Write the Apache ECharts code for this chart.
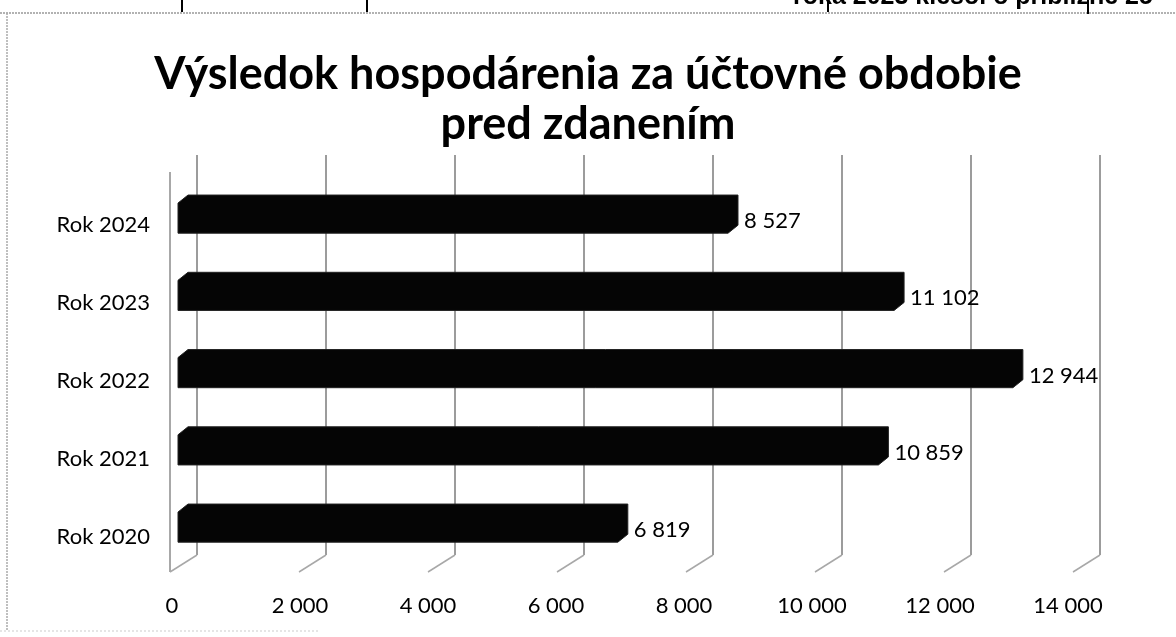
<!DOCTYPE html>
<html><head><meta charset="utf-8">
<script src="https://cdn.jsdelivr.net/npm/echarts@6/dist/echarts.min.js"></script>
<style>html,body{margin:0;padding:0;background:#fff}#c{width:1176px;height:637px}</style>
</head><body><div id="c"></div>
<script>
const titleLines = ['Výsledok hospodárenia za účtovné obdobie', 'pred zdanením'];
const categories = ['Rok 2020', 'Rok 2021', 'Rok 2022', 'Rok 2023', 'Rok 2024'];
const values = [6819, 10859, 12944, 11102, 8527];
const valueLabels = ['6 819', '10 859', '12 944', '11 102', '8 527'];
const xTicks = [0, 2000, 4000, 6000, 8000, 10000, 12000, 14000];
const xTickLabels = ['0', '2 000', '4 000', '6 000', '8 000', '10 000', '12 000', '14 000'];
const topCutText = 'roka 2023 klesol o približne 25';

const FONT = 'Lato, "Open Sans", sans-serif';
const chart = echarts.init(document.getElementById('c'));
const DX = 10, DY = 8;

chart.setOption({
  backgroundColor: '#fff',
  animation: false,
  title: {
    text: titleLines.join('\n'),
    left: 'center', top: 44,
    textStyle: { fontFamily: FONT, fontWeight: 'bold', fontSize: 45, lineHeight: 50, color: '#000' }
  },
  grid: [
    { left: 172, width: 896, top: 186, height: 390 },
    { left: 178, width: 903, top: 179.5, height: 386.25 },
    { left: 197, width: 903, top: 155, height: 400 }
  ],
  xAxis: [
    { gridIndex: 0, type: 'value', min: 0, max: 14000, interval: 2000,
      axisLine: { show: false }, axisTick: { show: false }, splitLine: { show: false },
      axisLabel: { margin: 19, fontFamily: FONT, fontSize: 22, color: '#000',
        formatter: v => xTickLabels[xTicks.indexOf(v)] } },
    { gridIndex: 1, type: 'value', min: 0, max: 14000, show: false },
    { gridIndex: 2, type: 'value', min: 0, max: 14000, interval: 2000,
      axisLine: { show: false }, axisTick: { show: false }, axisLabel: { show: false },
      splitLine: { show: true, lineStyle: { color: '#9c9c9c', width: 2 } } }
  ],
  yAxis: [
    { gridIndex: 0, type: 'category', data: categories,
      axisLine: { show: false }, axisTick: { show: false },
      axisLabel: { margin: 22, fontFamily: FONT, fontSize: 22, color: '#000' } },
    { gridIndex: 1, type: 'category', data: categories, show: false },
    { gridIndex: 2, type: 'value', min: 0, max: 1, show: false }
  ],
  series: [
    {
      type: 'custom', xAxisIndex: 2, yAxisIndex: 2, silent: true,
      data: xTicks.map(v => [v, 0]),
      renderItem: (params, api) => {
        const p = api.coord([api.value(0), 0]);
        const top = api.coord([api.value(0), 1]);
        const children = [{
          type: 'line',
          shape: { x1: p[0], y1: p[1], x2: p[0] - 27, y2: p[1] + 17 },
          style: { stroke: '#a8a8a8', lineWidth: 1.5 }
        }];
        if (params.dataIndex === 0) {
          children.push({
            type: 'line',
            shape: { x1: p[0] - 27, y1: top[1] + 17, x2: p[0] - 27, y2: p[1] + 17 },
            style: { stroke: '#a8a8a8', lineWidth: 2 }
          });
        }
        return { type: 'group', children };
      }
    },
    {
      type: 'custom', xAxisIndex: 1, yAxisIndex: 1,
      data: values.map((v, i) => [v, i]),
      renderItem: (params, api) => {
        const v = api.value(0), c = api.value(1);
        const s = api.coord([0, c]);
        const e = api.coord([v, c]);
        const band = api.size([0, 1])[1];
        const h = band * 0.39 / 2;
        const cy = s[1];
        const pts = [
          [s[0], cy + h], [s[0], cy - h], [s[0] + DX, cy - h - DY],
          [e[0] + DX, cy - h - DY], [e[0] + DX, cy + h - DY], [e[0], cy + h]
        ];
        return {
          type: 'group',
          children: [
            { type: 'polygon', shape: { points: pts }, style: { fill: '#050505', stroke: '#222', lineWidth: 1 } },
            { type: 'text', x: e[0] + DX + 6, y: cy + 3,
              style: { text: valueLabels[params.dataIndex], fill: '#000', font: '22px ' + FONT,
                textAlign: 'left', textVerticalAlign: 'middle' } }
          ]
        };
      }
    }
  ],
  graphic: [
    { type: 'line', shape: { x1: 0, y1: 13, x2: 1176, y2: 13 }, style: { stroke: '#999', lineWidth: 1.5, lineDash: [2, 1] } },
    { type: 'line', shape: { x1: 7, y1: 13, x2: 7, y2: 630 }, style: { stroke: '#aaa', lineWidth: 1.5, lineDash: [2, 1] } },
    { type: 'line', shape: { x1: 0, y1: 631, x2: 320, y2: 631 }, style: { stroke: '#ccc', lineWidth: 1, lineDash: [2, 2] } },
    { type: 'line', shape: { x1: 182, y1: 0, x2: 182, y2: 12 }, style: { stroke: '#000', lineWidth: 2 } },
    { type: 'line', shape: { x1: 367, y1: 0, x2: 367, y2: 12 }, style: { stroke: '#000', lineWidth: 2 } },
    { type: 'line', shape: { x1: 828, y1: 0, x2: 828, y2: 12 }, style: { stroke: '#000', lineWidth: 2 } },
    { type: 'line', shape: { x1: 1088, y1: 0, x2: 1088, y2: 14 }, style: { stroke: '#000', lineWidth: 2 } },
    { type: 'text', x: 793, y: 10,
      style: { text: topCutText, fill: '#000', font: 'bold 25px "Liberation Sans", Arial, sans-serif',
        textAlign: 'left', textVerticalAlign: 'bottom' } }
  ]
});
</script>
</body></html>
